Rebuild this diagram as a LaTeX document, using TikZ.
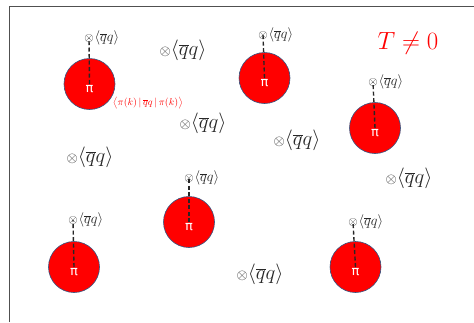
\documentclass[tikz,border=0pt]{standalone}
\usepackage{fontspec}
\newfontfamily\dvs{DejaVu Sans}
\definecolor{pionedge}{RGB}{50,85,130}
\definecolor{framecol}{RGB}{80,80,80}
\definecolor{txtcol}{RGB}{40,40,40}
\newcommand{\qqsmall}{$\bigl\langle\overline{q}q\bigr\rangle$}
\newcommand{\qqlarge}{{\fontsize{15}{15}\selectfont$\otimes$}$\Bigl\langle\overline{q}q\Bigr\rangle$}
\begin{document}
\begin{tikzpicture}[x=1pt,y=-1pt,
  pion/.style={circle,fill=red,draw=pionedge,line width=0.6pt,minimum size=51pt,inner sep=0pt},
  pilab/.style={text=white,font=\dvs\fontsize{13}{13}\selectfont,inner sep=0pt},
  otimesS/.style={inner sep=0pt,text=txtcol,font=\fontsize{12}{12}\selectfont},
  condS/.style={inner sep=0pt,anchor=west,text=txtcol,font=\fontsize{14}{14}\selectfont},
  condL/.style={inner sep=0pt,text=txtcol,font=\fontsize{22}{22}\selectfont},
  link/.style={dash pattern=on 4pt off 2.5pt,line width=1.4pt,draw=black!85},
  framel/.style={draw=framecol,line width=0.8pt}]
\useasboundingbox (0,0) rectangle (474,322);
\draw[framel] (9,322) -- (9,6) -- (474,6);
% pions
\node[pion] (p1) at (89.5,84) {};
\node[pion] (p2) at (264.5,78) {};
\node[pion] (p3) at (375,128) {};
\node[pion] (p4) at (189,222) {};
\node[pion] (p5) at (74,267) {};
\node[pion] (p6) at (355.5,267) {};
\foreach \i in {1,...,6}{\node[pilab] (pl\i) at ([yshift=-5pt]p\i.center) {π};}
% small condensates
\node[otimesS] (o1) at (89,38) {$\otimes$};
\node[otimesS] (o2) at (263,35) {$\otimes$};
\node[otimesS] (o3) at (373,82) {$\otimes$};
\node[otimesS] (o4) at (189,178) {$\otimes$};
\node[otimesS] (o5) at (73,220) {$\otimes$};
\node[otimesS] (o6) at (353,222) {$\otimes$};
\foreach \i in {1,...,6}{
  \node[condS] (c\i) at ([xshift=0.5pt]o\i.east) {\qqsmall};
  \draw[link] (p\i.center) -- (o\i.center);
}
% large condensates
\node[condL] (L1) at (183,50) {\qqlarge};
\node[condL] (L2) at (203,123) {\qqlarge};
\node[condL] (L3) at (297,140) {\qqlarge};
\node[condL] (L4) at (90,157) {\qqlarge};
\node[condL] (L5) at (409,178) {\qqlarge};
\node[condL] (L6) at (260,274) {\qqlarge};
% matrix element
\node[inner sep=0pt,text=red,font=\fontsize{10}{10}\selectfont] (me) at (148,103)
  {$\bigl\langle\pi(k)\,|\,\overline{q}q\,|\,\pi(k)\bigr\rangle$};
% temperature
\node[inner sep=0pt,text=red,font=\fontsize{28}{28}\selectfont] (T) at (408,43) {$T\neq 0$};
\end{tikzpicture}
\end{document}
